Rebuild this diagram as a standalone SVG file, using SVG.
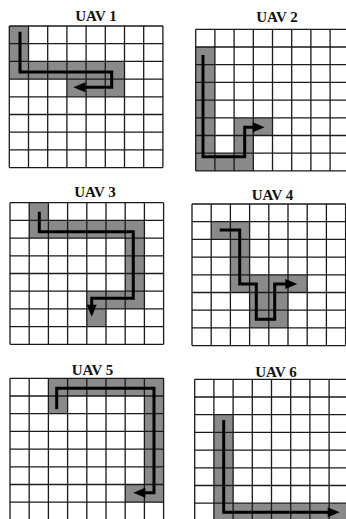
<svg xmlns="http://www.w3.org/2000/svg" xmlns:xlink="http://www.w3.org/1999/xlink" width="346" height="519" viewBox="0 0 346 519">
<style>
.title{font-family:"Liberation Serif","Times New Roman",serif;font-weight:bold;font-size:15px;fill:#111;text-anchor:middle}
.sh{fill:#8a8a8a}
.grid{fill:none;stroke:#1a1a1a;stroke-width:1.3}
.route{fill:none;stroke:#000;stroke-width:3;stroke-linejoin:miter}
</style>
<defs>
<path id="g" class="grid" d="M0,0V141.6M19.2,0V141.6M38.4,0V141.6M57.6,0V141.6M76.8,0V141.6M96,0V141.6M115.2,0V141.6M134.4,0V141.6M153.6,0V141.6M0,0H153.6M0,17.7H153.6M0,35.4H153.6M0,53.1H153.6M0,70.8H153.6M0,88.5H153.6M0,106.2H153.6M0,123.9H153.6M0,141.6H153.6"/>
<marker id="ah" markerUnits="userSpaceOnUse" markerWidth="12" markerHeight="10" refX="0" refY="5" orient="auto" overflow="visible"><path d="M-1,0L11,5L-1,10z" fill="#000"/></marker>
</defs>
<rect width="346" height="519" fill="#fff"/>
<g id="uav1">
<text class="title" x="96" y="21">UAV 1</text>
<g transform="translate(9.3,26)">
<rect class="sh" x="0" y="0" width="19.2" height="53.1"/>
<rect class="sh" x="0" y="35.4" width="115.2" height="17.7"/>
<rect class="sh" x="57.6" y="53.1" width="57.6" height="17.7"/>
<use xlink:href="#g"/>
</g>
</g>
<g id="uav2">
<text class="title" x="277" y="22">UAV 2</text>
<g transform="translate(195.7,29.3)">
<rect class="sh" x="0" y="17.7" width="19.2" height="123.9"/>
<rect class="sh" x="0" y="123.9" width="57.6" height="17.7"/>
<rect class="sh" x="38.4" y="88.5" width="19.2" height="53.1"/>
<rect class="sh" x="57.6" y="88.5" width="19.2" height="17.7"/>
<use xlink:href="#g"/>
</g>
</g>
<g id="uav3">
<text class="title" x="95" y="197">UAV 3</text>
<g transform="translate(10,202.7)">
<rect class="sh" x="19.2" y="0" width="19.2" height="35.4"/>
<rect class="sh" x="19.2" y="17.7" width="115.2" height="17.7"/>
<rect class="sh" x="115.2" y="17.7" width="19.2" height="88.5"/>
<rect class="sh" x="76.8" y="88.5" width="57.6" height="17.7"/>
<rect class="sh" x="76.8" y="106.2" width="19.2" height="17.7"/>
<use xlink:href="#g"/>
</g>
</g>
<g id="uav4">
<text class="title" x="272.5" y="200">UAV 4</text>
<g transform="translate(192,204)">
<rect class="sh" x="19.2" y="17.7" width="38.4" height="17.7"/>
<rect class="sh" x="38.4" y="17.7" width="19.2" height="70.8"/>
<rect class="sh" x="38.4" y="70.8" width="76.8" height="17.7"/>
<rect class="sh" x="57.6" y="88.5" width="38.4" height="35.4"/>
<use xlink:href="#g"/>
</g>
</g>
<g id="uav5">
<text class="title" x="92.5" y="375">UAV 5</text>
<g transform="translate(10,378.3)">
<rect class="sh" x="38.4" y="0" width="115.2" height="17.7"/>
<rect class="sh" x="38.4" y="17.7" width="19.2" height="17.7"/>
<rect class="sh" x="134.4" y="0" width="19.2" height="123.9"/>
<rect class="sh" x="115.2" y="106.2" width="38.4" height="17.7"/>
<use xlink:href="#g"/>
</g>
</g>
<g id="uav6">
<text class="title" x="276" y="376.5">UAV 6</text>
<g transform="translate(194.7,379.3)">
<rect class="sh" x="19.2" y="35.4" width="19.2" height="106.2"/>
<rect class="sh" x="19.2" y="123.9" width="134.4" height="17.7"/>
<use xlink:href="#g"/>
</g>
</g>
<g id="routes">
<path class="route" marker-end="url(#ah)" d="M20,31.7V72H111.7V87.3H84.3"/>
<path class="route" marker-end="url(#ah)" d="M203,55V156.7H244.7V127.3H253.7"/>
<path class="route" marker-end="url(#ah)" d="M39.3,211.7V231.7H133.3V298.3H91.7V305.7"/>
<path class="route" marker-end="url(#ah)" d="M219.7,230H239.7V284H256.3V319.3H274.7V284H286.3"/>
<path class="route" marker-end="url(#ah)" d="M56.7,409.3V388.3H154V492.7H144.3"/>
<path class="route" marker-end="url(#ah)" d="M223.7,420V512.3H328.7"/>
</g>
</svg>
